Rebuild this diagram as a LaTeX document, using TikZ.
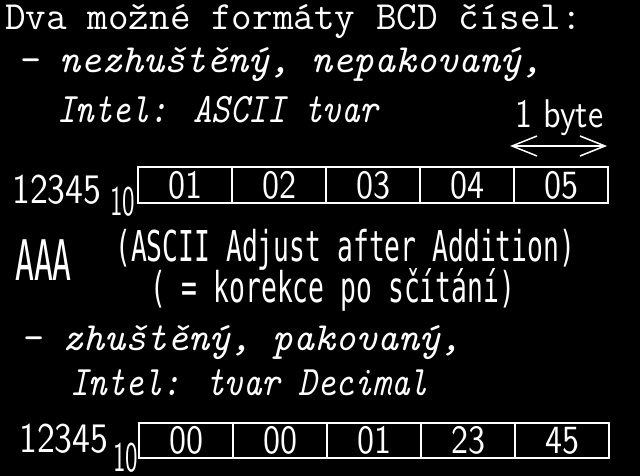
\documentclass[tikz,border=0pt]{standalone}
\usepackage{fontspec}
\usepackage{graphicx}
\usetikzlibrary{arrows.meta}

\newfontfamily\digitfont{lmsans10-regular.otf}[FakeStretch=0.85]
\newfontfamily\termfont{DejaVu Sans Mono}[FakeStretch=0.62]
\newfontfamily\mnemofont{DejaVu Sans Mono}[FakeStretch=0.56]

\begin{document}
\begin{tikzpicture}[x=1pt,y=-1pt,
    txt/.style={anchor=base west, inner sep=0pt, text=white},
    head/.style={txt, font=\fontsize{40}{40}\selectfont\ttfamily},
    slant/.style={txt, font=\fontsize{40}{40}\selectfont\ttfamily\itshape},
    slantbig/.style={txt, font=\fontsize{42}{42}\selectfont\ttfamily\itshape},
    num/.style={txt, font=\fontsize{42}{42}\selectfont\digitfont},
    term/.style={txt, font=\fontsize{42.5}{42.5}\selectfont\termfont},
    cell/.style={draw=white, line width=1.2pt, minimum width=94pt, minimum height=36pt,
        inner sep=0pt, text=white, font=\fontsize{40}{40}\selectfont\digitfont}]
    \fill[black] (0,0) rectangle (640,476);
    \useasboundingbox (0,0) rectangle (640,476);

    % heading and the unpacked format
    \node[head] (title) at (5,30) {Dva možné formáty BCD čísel:};
    \node[slant] (unpacked) at (17,73) {– nezhuštěný, nepakovaný,};
    \node[slantbig] (ascii) at (57,123) {\scalebox{0.84}[1]{Intel: ASCII tvar}};

    \node[txt, font=\fontsize{40}{40}\selectfont\digitfont] (byte) at (515,128) {1 byte};
    \coordinate (byteL) at (510,146);
    \coordinate (byteR) at (607,146);
    \draw[white, line width=1.5pt, {Straight Barb[length=25pt,width=20pt]}-{Straight Barb[length=25pt,width=20pt]}] (byteL) -- (byteR);

    \node[num] (valA) at (12,203) {12345};
    \node[num] (baseA) at (110,215) {\scalebox{0.7}[1]{10}};
    \foreach \v [count=\i] in {01,02,03,04,05}
        \node[cell] (u\i) at (91+94*\i,185) {\v};

    % the instruction
    \node[txt, font=\fontsize{56}{56}\selectfont\mnemofont] (aaa) at (15,280) {AAA};
    \node[term] (adjust) at (115,261) {(ASCII Adjust after Addition)};
    \node[term] (korekce) at (150,302) {( = korekce po sčítání)};

    % the packed format
    \node[slant] (packed) at (20,350) {– zhuštěný, pakovaný,};
    \node[slantbig] (decimal) at (70,395) {\scalebox{0.84}[1]{Intel: tvar Decimal}};

    \node[num] (valB) at (19,452) {12345};
    \node[num] (baseB) at (113,471) {\scalebox{0.7}[1]{10}};
    \foreach \v [count=\i] in {00,00,01,23,45}
        \node[cell, minimum height=35pt] (p\i) at (92+94*\i,440.5) {\v};
\end{tikzpicture}
\end{document}
